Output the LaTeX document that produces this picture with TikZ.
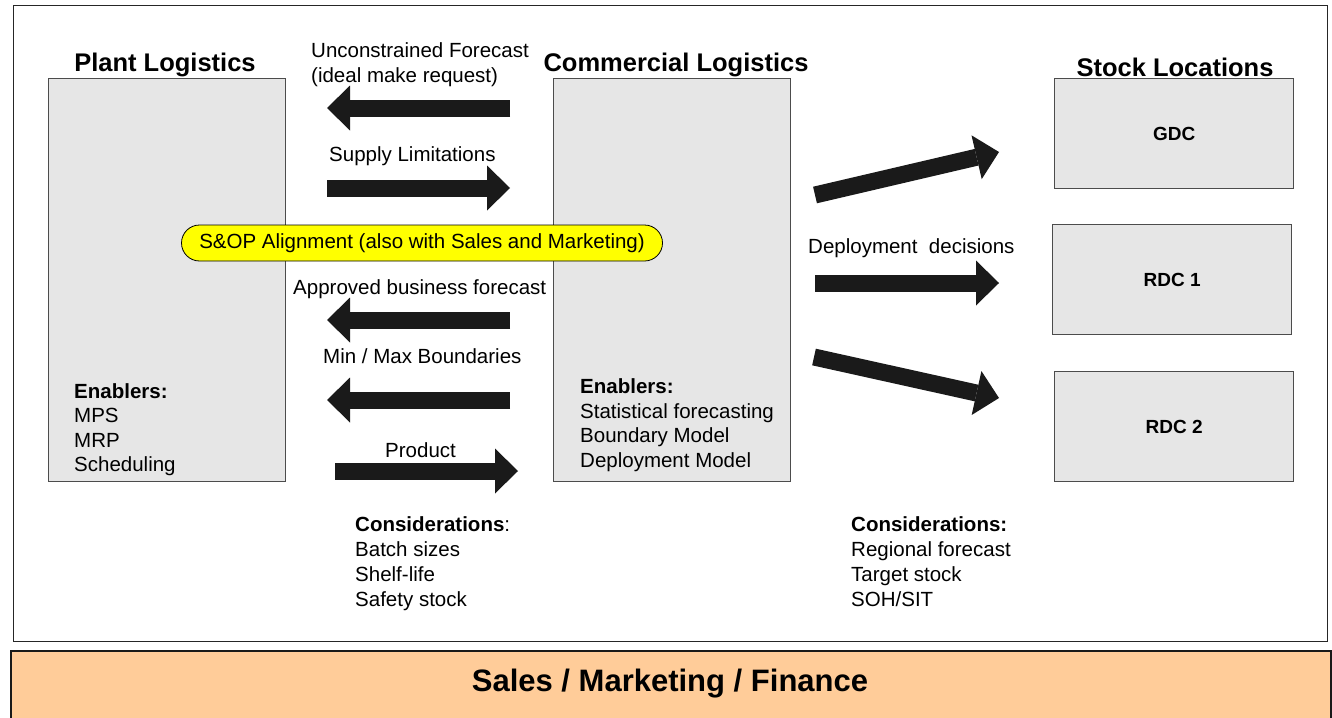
\documentclass[tikz,border=0pt]{standalone}
\usepackage{fontspec}
\setmainfont{Liberation Sans}
\usetikzlibrary{arrows.meta}
\definecolor{boxgray}{HTML}{E6E6E6}
\definecolor{peach}{HTML}{FFCC99}
\definecolor{arrowblack}{HTML}{1A1A1A}
\definecolor{pillyellow}{HTML}{FFFF00}
\begin{document}
\begin{tikzpicture}[x=1pt,y=-1pt,
  box/.style={draw=black!70, fill=boxgray, line width=1.2pt, anchor=north west, inner sep=0},
  title/.style={font=\fontsize{25.5}{30}\selectfont\bfseries, inner sep=0},
  lbl/.style={font=\fontsize{20.5}{24.5}\selectfont, inner sep=0, anchor=west},
  listtext/.style={inner sep=0, align=left, anchor=north west},
  boxlabel/.style={font=\fontsize{19}{23}\selectfont\bfseries},
  blockarrow/.style={draw=arrowblack, line width=17pt,
    -{Triangle[width=45pt,length=23pt,line width=0pt]}}
]
\useasboundingbox (0,0) rectangle (1332,717);
% outer frame and bottom bar
\node[draw=black!85, line width=1.4pt, anchor=north west, minimum width=1314pt, minimum height=636pt, inner sep=0] (frame) at (13,5) {};
\node[draw=black!90, fill=peach, line width=2pt, anchor=north west, minimum width=1320pt, minimum height=75pt, inner sep=0] (bar) at (10,650) {};
\node[font=\fontsize{31}{36}\selectfont\bfseries, inner sep=0] (bartext) at (670,684) {Sales / Marketing / Finance};

% main boxes
\node[box, minimum width=237pt, minimum height=403pt] (plant) at (48,78) {};
\node[box, minimum width=237pt, minimum height=403pt] (comm) at (553,78) {};
\node[box, minimum width=239pt, minimum height=110pt] (gdc) at (1054,78) {};
\node[box, minimum width=239pt, minimum height=110pt] (rdc1) at (1052,224) {};
\node[box, minimum width=239pt, minimum height=110pt] (rdc2) at (1054,371) {};
\node[boxlabel] (gdct) at (gdc.center) {GDC};
\node[boxlabel] (rdc1t) at (rdc1.center) {RDC 1};
\node[boxlabel] (rdc2t) at (rdc2.center) {RDC 2};

% titles
\node[title] (tplant) at (165,65) {Plant Logistics};
\node[title] (tcomm) at (676,65) {Commercial Logistics};
\node[title] (tstock) at (1175,67) {Stock Locations};

% arrow end points
\coordinate (a1s) at (510,108); \coordinate (a1e) at (327,108);
\coordinate (a2s) at (327,188); \coordinate (a2e) at (510,188);
\coordinate (a3s) at (510,320); \coordinate (a3e) at (327,320);
\coordinate (a4s) at (510,400); \coordinate (a4e) at (327,400);
\coordinate (a5s) at (335,471); \coordinate (a5e) at (518,471);
\coordinate (r1s) at (815,195); \coordinate (r1e) at (999,152);
\coordinate (r2s) at (815,283); \coordinate (r2e) at (999,283);
\coordinate (r3s) at (814,357); \coordinate (r3e) at (999,398);

\draw[blockarrow] (a1s) -- (a1e);
\draw[blockarrow] (a2s) -- (a2e);
\draw[blockarrow] (a3s) -- (a3e);
\draw[blockarrow] (a4s) -- (a4e);
\draw[blockarrow] (a5s) -- (a5e);
\draw[blockarrow] (r1s) -- (r1e);
\draw[blockarrow] (r2s) -- (r2e);
\draw[blockarrow] (r3s) -- (r3e);

% S&OP pill
\node[draw=black, fill=pillyellow, line width=0.8pt, rounded corners=18pt,
  minimum width=481pt, minimum height=36pt, inner sep=0,
  font=\fontsize{20.5}{24.5}\selectfont] (sop) at (422,243)
  {S\&OP Alignment (also with Sales and Marketing)};

% arrow labels
\node[listtext, font=\fontsize{20.5}{25}\selectfont] (lunc) at (311,42)
  {Unconstrained Forecast\\(ideal make request)};
\node[lbl] (lsup) at (329,156) {Supply Limitations};
\node[lbl] (lapp) at (293,289) {Approved business forecast};
\node[lbl] (lmin) at (323,356) {Min / Max Boundaries};
\node[lbl] (lprod) at (385,450) {Product};
\node[lbl] (ldep) at (808,248) {Deployment\ \ decisions};

% enablers and considerations
\node[listtext, font=\fontsize{20.5}{24.4}\selectfont] (enplant) at (74,383.5)
  {\textbf{Enablers:}\\MPS\\MRP\\Scheduling};
\node[listtext, font=\fontsize{20.5}{24.7}\selectfont] (encomm) at (580,378.5)
  {\textbf{Enablers:}\\Statistical forecasting\\Boundary Model\\Deployment Model};
\node[listtext, font=\fontsize{20.5}{25}\selectfont] (conleft) at (355,516.5)
  {\textbf{Considerations}:\\Batch sizes\\Shelf-life\\Safety stock};
\node[listtext, font=\fontsize{20.5}{25}\selectfont] (conright) at (851,516.5)
  {\textbf{Considerations:}\\Regional forecast\\Target stock\\SOH/SIT};
\end{tikzpicture}
\end{document}
